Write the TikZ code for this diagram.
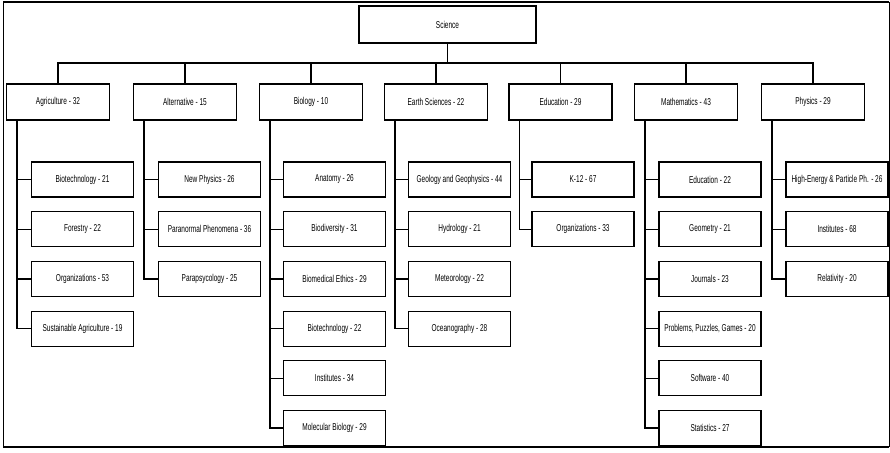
\documentclass[tikz,border=0pt]{standalone}
\usepackage{fontspec}
\setmainfont{Liberation Sans}[FakeStretch=0.65]
\usetikzlibrary{calc}
\begin{document}
\begin{tikzpicture}[x=1pt,y=-1pt,
  box/.style={draw,line width=1.2pt,minimum width=103pt,minimum height=36pt,inner sep=0pt,font=\fontsize{10}{12}\selectfont},
  kid/.style={box,minimum width=102pt,minimum height=35pt},
  conn/.style={line width=1.2pt}]
\useasboundingbox (0,0) rectangle (890,452);
\draw[line width=0.8pt] (3,2) -- (3,447);
\draw[line width=0.6pt] (889,2) -- (889,447);
\draw[line width=2pt] (3,2) -- (889,2);
\draw[line width=2pt] (3,447) -- (889,447);
\node[box,minimum width=177pt,minimum height=37pt] (sci) at (447.5,24.5) {Science};
\node[box] (agri) at (58,102) {Agriculture - 32};
\node[box] (alt) at (185,102) {Alternative - 15};
\node[box] (bio) at (311,102) {Biology - 10};
\node[box] (earth) at (436,102) {Earth Sciences - 22};
\node[box] (edu) at (560.5,102) {Education - 29};
\node[box] (math) at (686,102) {Mathematics - 43};
\node[box] (phys) at (813,102) {Physics - 29};
\coordinate (bus) at (447.5,63);
\draw[conn] (sci.south) -- (bus);
\foreach \n in {agri,alt,bio,earth,edu,math,phys}{
  \draw[conn] (bus) -| (\n.north);
  \coordinate (\n T) at ($(\n.south west)+(11,0)$);
}
% Agriculture
\node[kid] (a1) at (82.5,179.5) {Biotechnology - 21};
\node[kid] (a2) at (82.5,229.2) {Forestry - 22};
\node[kid] (a3) at (82.5,278.9) {Organizations - 53};
\node[kid] (a4) at (82.5,328.6) {Sustainable Agriculture - 19};
\foreach \k in {a1,a2,a3,a4} \draw[conn] (agriT) |- (\k.west);
% Alternative
\node[kid] (b1) at (209.5,179.5) {New Physics - 26};
\node[kid] (b2) at (209.5,229.2) {Paranormal Phenomena - 36};
\node[kid] (b3) at (209.5,278.9) {Parapsycology - 25};
\foreach \k in {b1,b2,b3} \draw[conn] (altT) |- (\k.west);
% Biology
\node[kid] (c1) at (334.5,179.5) {Anatomy - 26};
\node[kid] (c2) at (334.5,229.2) {Biodiversity - 31};
\node[kid] (c3) at (334.5,278.9) {Biomedical Ethics - 29};
\node[kid] (c4) at (334.5,328.6) {Biotechnology - 22};
\node[kid] (c5) at (334.5,378.3) {Institutes - 34};
\node[kid] (c6) at (334.5,428) {Molecular Biology - 29};
\foreach \k in {c1,c2,c3,c4,c5,c6} \draw[conn] (bioT) |- (\k.west);
% Earth Sciences
\node[kid] (d1) at (459.5,179.5) {Geology and Geophysics - 44};
\node[kid] (d2) at (459.5,229.2) {Hydrology - 21};
\node[kid] (d3) at (459.5,278.9) {Meteorology - 22};
\node[kid] (d4) at (459.5,328.6) {Oceanography - 28};
\foreach \k in {d1,d2,d3,d4} \draw[conn] (earthT) |- (\k.west);
% Education
\node[kid] (e1) at (583,179.5) {K-12 - 67};
\node[kid] (e2) at (583,229.2) {Organizations - 33};
\foreach \k in {e1,e2} \draw[conn] (eduT) |- (\k.west);
% Mathematics
\node[kid] (f1) at (710,179.5) {Education - 22};
\node[kid] (f2) at (710,229.2) {Geometry - 21};
\node[kid] (f3) at (710,278.9) {Journals - 23};
\node[kid] (f4) at (710,328.6) {Problems, Puzzles, Games - 20};
\node[kid] (f5) at (710,378.3) {Software - 40};
\node[kid] (f6) at (710,428) {Statistics - 27};
\foreach \k in {f1,f2,f3,f4,f5,f6} \draw[conn] (mathT) |- (\k.west);
% Physics
\node[kid] (g1) at (837,179.5) {High-Energy \& Particle Ph. - 26};
\node[kid] (g2) at (837,229.2) {Institutes - 68};
\node[kid] (g3) at (837,278.9) {Relativity - 20};
\foreach \k in {g1,g2,g3} \draw[conn] (physT) |- (\k.west);
\end{tikzpicture}
\end{document}
